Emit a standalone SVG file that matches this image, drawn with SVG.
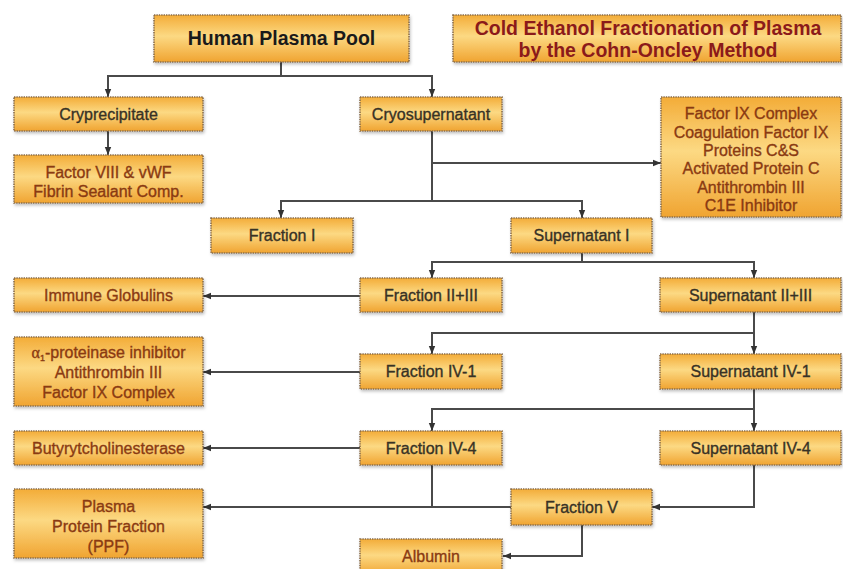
<svg xmlns="http://www.w3.org/2000/svg" width="843" height="569" viewBox="0 0 843 569">
<defs>
<linearGradient id="gold" x1="0" y1="0" x2="0" y2="1">
<stop offset="0" stop-color="#F3AC38"/>
<stop offset="0.45" stop-color="#FCD983"/>
<stop offset="1" stop-color="#F0A431"/>
</linearGradient>
<filter id="sh" x="-5%" y="-10%" width="110%" height="130%">
<feDropShadow dx="1" dy="2" stdDeviation="1.5" flood-color="#000" flood-opacity="0.25"/>
</filter>
<marker id="ah" viewBox="0 0 8 8" refX="8" refY="4" markerWidth="8" markerHeight="8" markerUnits="userSpaceOnUse" orient="auto">
<path d="M0 0.8 L8 4 L0 7.2 Z" fill="#333"/>
</marker>
<style>
.box{fill:url(#gold);stroke:#8a6d4a;stroke-width:1.6;stroke-dasharray:1.4 1;filter:url(#sh)}
.t{font-family:"Liberation Sans",Arial,sans-serif;font-size:16px;text-anchor:middle;fill:#383225;stroke:#383225;stroke-width:0.35}
.p{font-family:"Liberation Sans",Arial,sans-serif;font-size:16px;text-anchor:middle;fill:#8a3a12;stroke:#8a3a12;stroke-width:0.35}
.b{font-family:"Liberation Sans",Arial,sans-serif;font-size:19.5px;font-weight:bold;text-anchor:middle}
.c{fill:none;stroke:#4a4a4a;stroke-width:2}
.a{marker-end:url(#ah)}
</style>
</defs>
<rect width="843" height="569" fill="#fff"/>
<g id="connectors">
<path class="c" d="M281 62 V76"/>
<path class="c a" d="M281 76 H108 V97"/>
<path class="c a" d="M281 76 H432 V97"/>
<path class="c a" d="M108 131 V155"/>
<path class="c a" d="M432 131 V201 H281 V218"/>
<path class="c a" d="M432 201 H582 V218"/>
<path class="c a" d="M432 163 H661"/>
<path class="c a" d="M582 253 V262 H432 V278"/>
<path class="c a" d="M582 262 H754 V278"/>
<path class="c a" d="M360 296 H203"/>
<path class="c a" d="M754 312 V354"/>
<path class="c a" d="M754 333 H432 V354"/>
<path class="c a" d="M360 372 H203"/>
<path class="c a" d="M754 389 V431"/>
<path class="c a" d="M754 409 H432 V431"/>
<path class="c a" d="M360 448 H203"/>
<path class="c" d="M432 465 V507"/>
<path class="c a" d="M511 507 H203"/>
<path class="c a" d="M754 465 V507 H652"/>
<path class="c a" d="M582 525 V556 H503"/>
</g>
<g id="hpp"><rect class="box" x="154" y="15" width="255" height="47"/><text class="b" x="281.5" y="45" fill="#1a1a1a">Human Plasma Pool</text></g>
<g id="title"><rect class="box" x="453" y="15" width="388" height="47"/><text class="b" x="648" y="35" fill="#8B1A1A">Cold Ethanol Fractionation of Plasma</text><text class="b" x="648" y="56.5" fill="#8B1A1A">by the Cohn-Oncley Method</text></g>
<g id="cryp"><rect class="box" x="14" y="97" width="189" height="34"/><text class="t" x="108.5" y="119.5">Cryprecipitate</text></g>
<g id="cryos"><rect class="box" x="360" y="97" width="142" height="34"/><text class="t" x="431" y="119.5">Cryosupernatant</text></g>
<g id="f8"><rect class="box" x="14" y="155" width="189" height="48"/><text class="p" x="108.5" y="178">Factor VIII &amp; vWF</text><text class="p" x="108.5" y="197">Fibrin Sealant Comp.</text></g>
<g id="f9"><rect class="box" x="661" y="97" width="180" height="120"/>
<text class="p" x="751" y="119">Factor IX Complex</text>
<text class="p" x="751" y="137.5">Coagulation Factor IX</text>
<text class="p" x="751" y="156">Proteins C&amp;S</text>
<text class="p" x="751" y="174">Activated Protein C</text>
<text class="p" x="751" y="192.5">Antithrombin III</text>
<text class="p" x="751" y="211">C1E Inhibitor</text></g>
<g id="fr1"><rect class="box" x="211" y="218" width="142" height="35"/><text class="t" x="282" y="241">Fraction I</text></g>
<g id="sup1"><rect class="box" x="511" y="218" width="141" height="35"/><text class="t" x="581.5" y="241">Supernatant I</text></g>
<g id="ig"><rect class="box" x="14" y="278" width="189" height="34"/><text class="p" x="108.5" y="301">Immune Globulins</text></g>
<g id="fr23"><rect class="box" x="360" y="278" width="142" height="34"/><text class="t" x="431" y="301">Fraction II+III</text></g>
<g id="sup23"><rect class="box" x="660" y="278" width="181" height="34"/><text class="t" x="750.5" y="301">Supernatant II+III</text></g>
<g id="a1"><rect class="box" x="14" y="337" width="189" height="69"/>
<text class="p" x="108.5" y="358"><tspan font-family="'Liberation Serif',serif">α</tspan><tspan font-size="9" dy="3">1</tspan><tspan dy="-3">-proteinase inhibitor</tspan></text>
<text class="p" x="108.5" y="378">Antithrombin III</text>
<text class="p" x="108.5" y="397.5">Factor IX Complex</text></g>
<g id="fr41"><rect class="box" x="360" y="354" width="142" height="35"/><text class="t" x="431" y="377">Fraction IV-1</text></g>
<g id="sup41"><rect class="box" x="660" y="354" width="181" height="35"/><text class="t" x="750.5" y="377">Supernatant IV-1</text></g>
<g id="bche"><rect class="box" x="14" y="431" width="189" height="34"/><text class="p" x="108.5" y="454">Butyrytcholinesterase</text></g>
<g id="fr44"><rect class="box" x="360" y="431" width="142" height="34"/><text class="t" x="431" y="454">Fraction IV-4</text></g>
<g id="sup44"><rect class="box" x="660" y="431" width="181" height="34"/><text class="t" x="750.5" y="454">Supernatant IV-4</text></g>
<g id="ppf"><rect class="box" x="14" y="489" width="189" height="69"/>
<text class="p" x="108.5" y="512">Plasma</text>
<text class="p" x="108.5" y="532">Protein Fraction</text>
<text class="p" x="108.5" y="551.5">(PPF)</text></g>
<g id="frv"><rect class="box" x="511" y="489" width="141" height="36"/><text class="t" x="581.5" y="512.5">Fraction V</text></g>
<g id="alb"><rect class="box" x="360" y="539" width="142" height="36"/><text class="p" x="431" y="562">Albumin</text></g>
</svg>
